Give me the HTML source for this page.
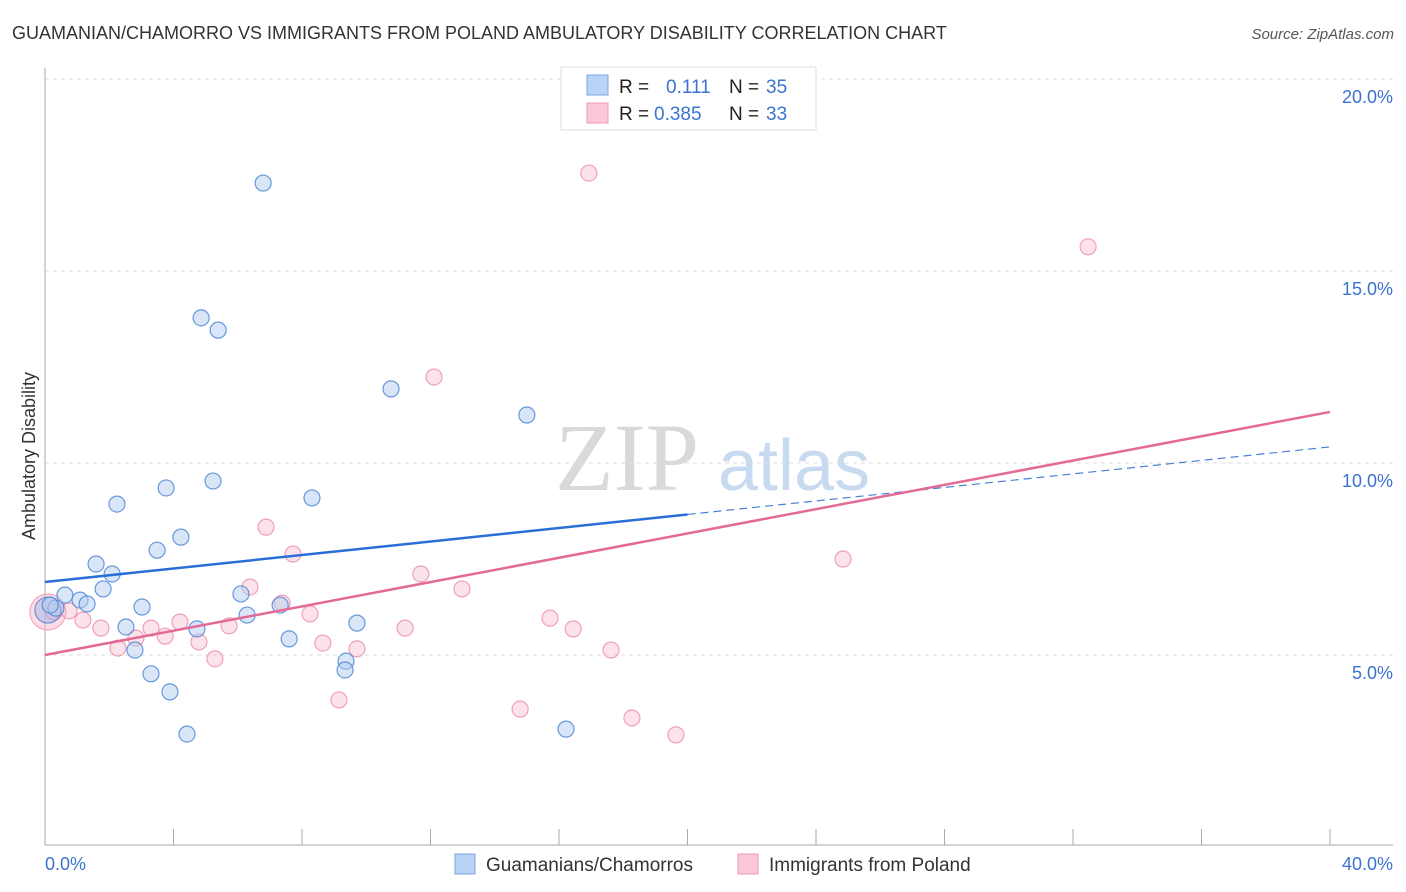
<!DOCTYPE html>
<html><head><meta charset="utf-8"><style>
body{margin:0;background:#fff;font-family:"Liberation Sans",sans-serif;}
#wrap{position:relative;width:1406px;height:892px;overflow:hidden;}
</style></head><body>
<div id="wrap">
<svg id="svg" width="1406" height="892" xmlns="http://www.w3.org/2000/svg">
<text x="12" y="39" font-size="18" fill="#333">GUAMANIAN/CHAMORRO VS IMMIGRANTS FROM POLAND AMBULATORY DISABILITY CORRELATION CHART</text>
<text x="1394" y="39" font-size="15" fill="#555" font-style="italic" text-anchor="end">Source: ZipAtlas.com</text>
<text x="35" y="456" font-size="18" fill="#333" text-anchor="middle" transform="rotate(-90 35 456)">Ambulatory Disability</text>
<text x="555" y="490" font-size="96" fill="#d9d9d9" font-family="Liberation Serif,serif">ZIP</text>
<text x="718" y="490" font-size="72" fill="#c8daf0">atlas</text>
<g id="grid"></g><g id="marks"></g>
<g>
<rect x="561" y="67" width="255" height="63" fill="#fff" stroke="#ddd"/>
<rect x="587" y="75" width="21" height="20" fill="#b8d3f5" stroke="#7aa7e0"/>
<rect x="587" y="103" width="21" height="20" fill="#fac8d8" stroke="#ec9ab4"/>
<text x="619" y="93" font-size="19" fill="#222">R = </text><text x="666" y="93" font-size="19" fill="#3a74d0">0.111</text>
<text x="729" y="93" font-size="19" fill="#222">N = </text><text x="766" y="93" font-size="19" fill="#3a74d0">35</text>
<text x="619" y="120" font-size="19" fill="#222">R = </text><text x="654" y="120" font-size="19" fill="#3a74d0">0.385</text>
<text x="729" y="120" font-size="19" fill="#222">N = </text><text x="766" y="120" font-size="19" fill="#3a74d0">33</text>
</g>
<g>
<rect x="455" y="854" width="20" height="20" fill="#b8d3f5" stroke="#7aa7e0"/>
<text x="486" y="871" font-size="19" fill="#333">Guamanians/Chamorros</text>
<rect x="738" y="854" width="20" height="20" fill="#fac8d8" stroke="#ec9ab4"/>
<text x="769" y="871" font-size="19" fill="#333">Immigrants from Poland</text>
</g>
<text x="45" y="870" font-size="18" fill="#3a74d0">0.0%</text>
<text x="1393" y="870" font-size="18" fill="#3a74d0" text-anchor="end">40.0%</text>
</svg>
</div>
<script>
const blueX=[6.79,4.86,5.39,10.77,15.0,3.77,5.23,8.31,2.24,4.23,3.49,1.59,2.09,1.81,0.62,1.09,1.31,0.34,6.10,3.02,7.32,6.29,9.71,2.52,4.73,7.60,2.80,9.37,9.34,3.30,3.89,4.42,16.22,0.16];
const blueY=[17.29,13.78,13.46,11.93,11.25,9.35,9.53,9.09,8.93,8.07,7.73,7.37,7.11,6.72,6.56,6.43,6.33,6.22,6.59,6.25,6.30,6.04,5.83,5.73,5.68,5.42,5.13,4.84,4.61,4.51,4.04,2.94,3.07,6.30];
const pinkX=[16.93,32.47,12.11,6.88,7.72,11.70,6.38,12.98,7.38,8.25,0.28,0.75,1.18,1.74,3.30,4.20,5.73,11.21,15.72,16.44,2.83,3.74,2.27,4.79,8.65,9.71,17.62,5.29,24.84,9.15,14.79,18.27,19.64];
const pinkY=[17.55,15.63,12.24,8.33,7.63,7.11,6.77,6.72,6.35,6.07,6.12,6.15,5.91,5.70,5.70,5.86,5.76,5.70,5.96,5.68,5.44,5.49,5.18,5.34,5.31,5.16,5.13,4.90,7.50,3.83,3.59,3.36,2.92];
const bigBlue=[0.09,6.17], bigPink=[0.09,6.12];
const blueTrend=[6.90,10.42], blueSolidEnd=20.0;
const pinkTrend=[5.00,11.33];
const yTicks=[5,10,15,20];
const xTickVals=[0,4,8,12,16,20,24,28,32,36,40];
const NS='http://www.w3.org/2000/svg';
const sx=v=>45+v*1285/40, sy=v=>847-v*38.4;
function mk(t,a,p){const e=document.createElementNS(NS,t);for(const k in a)e.setAttribute(k,a[k]);p.appendChild(e);return e;}
const grid=document.getElementById('grid'), marks=document.getElementById('marks');
yTicks.forEach(v=>{
 const l=mk('line',{x1:45,x2:1393,y1:sy(v),y2:sy(v),stroke:'#ddd','stroke-dasharray':'4,4'},grid);
 
 
 const t=mk('text',{x:1393,y:sy(v)+24,'font-size':18,fill:'#3a74d0','text-anchor':'end'},grid);
 t.textContent=v.toFixed(1)+'%';
 
 
});
mk('line',{x1:45,x2:45,y1:68,y2:845,stroke:'#aaa'},grid);
mk('line',{x1:45,x2:1393,y1:845,y2:845,stroke:'#aaa'},grid);
xTickVals.forEach(v=>{
 const l=mk('line',{x1:sx(v),x2:sx(v),y1:829,y2:845,stroke:'#aaa'},grid);
 
 
});
function dot(x,y,r,fill,stroke,name){
 const c=mk('circle',{cx:sx(x),cy:sy(y),r:r,fill:fill,stroke:stroke,'stroke-width':1.2},marks);
 
 
}
dot(bigPink[0],bigPink[1],18,'rgba(248,180,200,0.45)','rgba(236,140,170,0.7)','poland-point-large');
pinkX.forEach((x,i)=>dot(x,pinkY[i],8,'rgba(248,190,208,0.45)','rgba(236,140,170,0.8)','poland-point'));
dot(bigBlue[0],bigBlue[1],13,'rgba(150,180,235,0.45)','rgba(80,130,215,0.8)','guam-point-large');
blueX.forEach((x,i)=>dot(x,blueY[i],8,'rgba(180,205,240,0.5)','rgba(80,135,215,0.85)','guam-point'));
const by=x=>blueTrend[0]+(blueTrend[1]-blueTrend[0])*x/40;
let e=mk('line',{x1:sx(0),y1:sy(by(0)),x2:sx(blueSolidEnd),y2:sy(by(blueSolidEnd)),stroke:'#2b6fd6','stroke-width':2.5},marks);


e=mk('line',{x1:sx(blueSolidEnd),y1:sy(by(blueSolidEnd)),x2:sx(40),y2:sy(by(40)),stroke:'#4a80d8','stroke-width':1.2,'stroke-dasharray':'8,5'},marks);


e=mk('line',{x1:sx(0),y1:sy(pinkTrend[0]),x2:sx(40),y2:sy(pinkTrend[1]),stroke:'#e46a95','stroke-width':2.5},marks);


</script>
</body></html>
